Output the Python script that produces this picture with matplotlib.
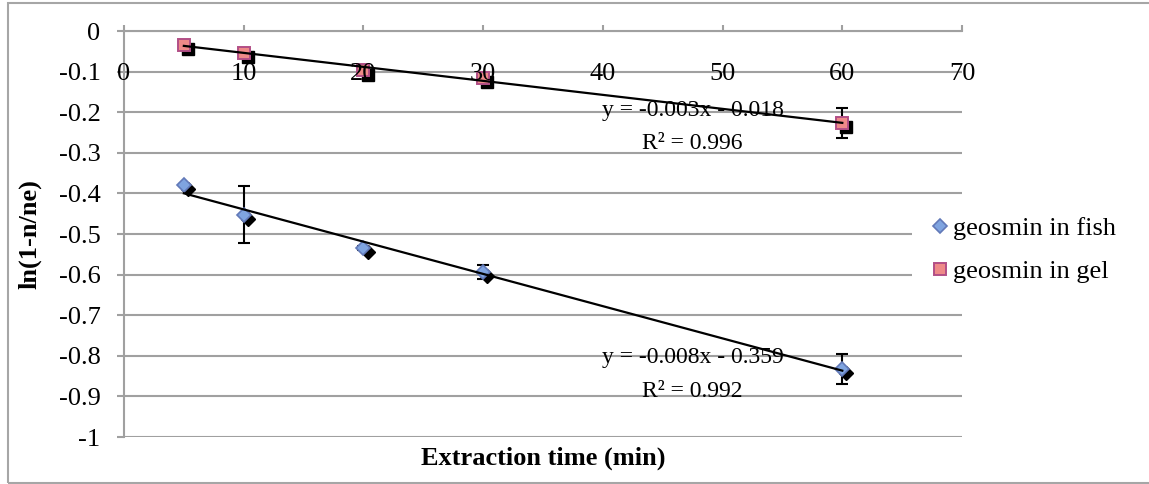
import numpy as np
import matplotlib
matplotlib.use('Agg')
import matplotlib.pyplot as plt
import matplotlib.transforms as mtransforms
from matplotlib.patches import Rectangle

# Data
time = [5, 10, 20, 30, 60]
fish = [-0.379, -0.452, -0.535, -0.594, -0.833]
fish_err = [0.003, 0.071, 0.005, 0.018, 0.037]
gel = [-0.034, -0.054, -0.097, -0.116, -0.227]
gel_err = [0.003, 0.004, 0.004, 0.005, 0.037]

fish_eq = ["y = -0.008x - 0.359", "R² = 0.992"]
gel_eq = ["y = -0.003x - 0.018", "R² = 0.996"]

xticks = [0, 10, 20, 30, 40, 50, 60, 70]
yticks = [0, -0.1, -0.2, -0.3, -0.4, -0.5, -0.6, -0.7, -0.8, -0.9, -1]
ytick_labels = ['0', '-0.1', '-0.2', '-0.3', '-0.4', '-0.5', '-0.6', '-0.7', '-0.8', '-0.9', '-1']

plt.rcParams['font.family'] = ['Liberation Serif', 'DejaVu Serif']
grid_c = '#a0a0a0'
fs = 19

fig = plt.figure(figsize=(11.49, 4.84), dpi=100)
ax = fig.add_axes([124/1149, 1 - 437/484, (962 - 124)/1149, (437 - 31)/484])

# chart area border
fig.patches.append(Rectangle((8/1149, 1.5/484), 1.2, 480/484, transform=fig.transFigure,
                             fill=False, edgecolor='#a6a6a6', lw=1.5, zorder=0))

# gridlines
for yv in yticks:
    ax.axhline(yv, color=grid_c, lw=1.5, zorder=0)

# shadows offset down-right
shadow = mtransforms.offset_copy(ax.transData, fig=fig, x=3, y=-3, units='points')
ax.plot(time, fish, 'D', ms=7.5, color='black', transform=shadow, zorder=2)
ax.plot(time, gel, 's', ms=8.5, color='black', transform=shadow, zorder=2)

# error bars and markers
ax.errorbar(time, fish, yerr=fish_err, fmt='none', ecolor='black', elinewidth=1.5,
            capsize=4.5, capthick=1.5, zorder=3)
ax.errorbar(time, gel, yerr=gel_err, fmt='none', ecolor='black', elinewidth=1.5,
            capsize=4.5, capthick=1.5, zorder=3)
h1, = ax.plot(time, fish, 'D', ms=7.5, markerfacecolor='#7fa4e0', markeredgecolor='#6279b8',
              markeredgewidth=1.2, linestyle='none', zorder=4, label='geosmin in fish')
h2, = ax.plot(time, gel, 's', ms=8.5, markerfacecolor='#ee8a88', markeredgecolor='#b24f86',
              markeredgewidth=1.4, linestyle='none', zorder=4, label='geosmin in gel')

# trendline labels
ax.text(47.5, -0.195, gel_eq[0], ha='center', va='center', fontsize=17, zorder=5)
ax.text(47.5, -0.276, gel_eq[1], ha='center', va='center', fontsize=17, zorder=5)
ax.text(47.5, -0.805, fish_eq[0], ha='center', va='center', fontsize=17, zorder=5)
ax.text(47.5, -0.889, fish_eq[1], ha='center', va='center', fontsize=17, zorder=5)

# trendlines
for ys in (fish, gel):
    k, b = np.polyfit(time, ys, 1)
    xs = np.array([min(time), max(time)])
    ax.plot(xs, k * xs + b, color='black', lw=1.6, zorder=6)

ax.set_xlim(0, 70)
ax.set_ylim(-1, 0)

# x axis along the top, labels sitting on the -0.1 row
ax.set_xticks(xticks)
ax.tick_params(axis='x', top=True, bottom=False, labeltop=False, labelbottom=False,
               direction='out', length=4, width=1.5, color=grid_c)
for t in xticks:
    ax.text(t, -0.1, str(t), ha='center', va='center_baseline', fontsize=fs, zorder=5)

ax.set_yticks(yticks)
ax.set_yticklabels(ytick_labels, fontsize=fs)
ax.tick_params(axis='y', direction='out', length=5, width=1.5, color=grid_c, pad=12)

for s in ['right', 'bottom']:
    ax.spines[s].set_visible(False)
for s in ['left', 'top']:
    ax.spines[s].set_color(grid_c)
    ax.spines[s].set_linewidth(1.5)

ax.set_xlabel('Extraction time (min)', fontsize=fs, fontweight='bold')
ax.xaxis.set_label_coords(0.5, -0.052)
ax.xaxis.label.set_va('center')
ax.set_ylabel('ln(1-n/ne)', fontsize=fs, fontweight='bold')
ax.yaxis.set_label_coords(-0.112, 0.5)
ax.yaxis.label.set_va('center')

fig.legend(handles=[h1, h2], loc='center left', bbox_to_anchor=(912/1149, 1 - 250/484),
           frameon=True, facecolor='white', edgecolor='none', framealpha=1, fancybox=False,
           fontsize=fs, handlelength=0.7, handletextpad=0.15, borderpad=0.7,
           labelspacing=0.75, borderaxespad=0)

fig.savefig('out.png', dpi=100)
